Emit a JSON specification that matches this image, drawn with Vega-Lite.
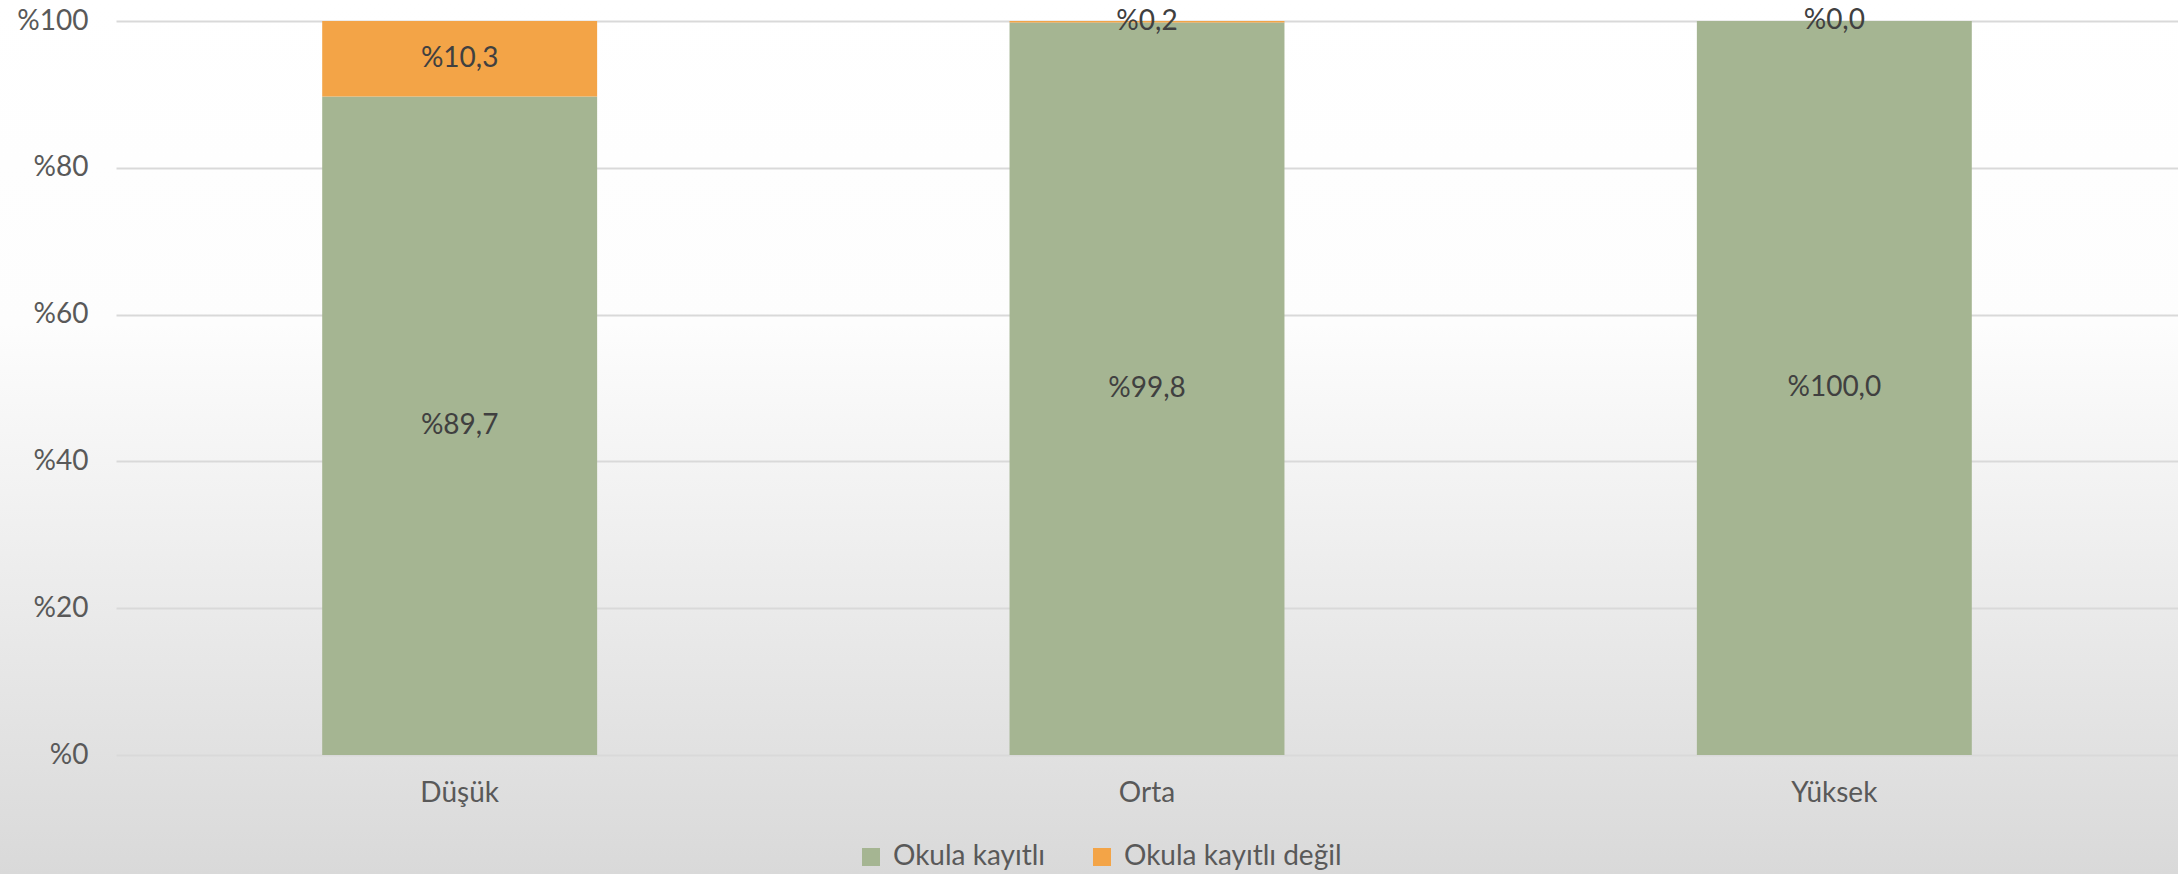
{
  "$schema": "https://vega.github.io/schema/vega-lite/v6.json",
  "width": 2178,
  "height": 874,
  "autosize": {"type": "none"},
  "padding": 0,
  "background": "#ffffff",
  "config": {
    "font": "Lato",
    "view": {"stroke": null, "fill": {"gradient": "linear", "x1": 0, "y1": 0, "x2": 0, "y2": 1, "stops": [{"offset": 0, "color": "#ffffff"}, {"offset": 0.37, "color": "#fdfdfd"}, {"offset": 1, "color": "#d9d9d9"}]}},
    "axis": {"labelFont": "Lato", "labelFontSize": 28, "labelColor": "#595959"},
    "legend": {"labelFont": "Lato", "labelFontSize": 28, "labelColor": "#595959"}
  },
  "data": {
    "values": [
      {"grup": "Düşük", "durum": "Okula kayıtlı", "sira": 1, "deger": 89.7, "etiket": "%89,7"},
      {"grup": "Düşük", "durum": "Okula kayıtlı değil", "sira": 2, "deger": 10.3, "etiket": "%10,3"},
      {"grup": "Orta", "durum": "Okula kayıtlı", "sira": 1, "deger": 99.8, "etiket": "%99,8"},
      {"grup": "Orta", "durum": "Okula kayıtlı değil", "sira": 2, "deger": 0.2, "etiket": "%0,2"},
      {"grup": "Yüksek", "durum": "Okula kayıtlı", "sira": 1, "deger": 100.0, "etiket": "%100,0"},
      {"grup": "Yüksek", "durum": "Okula kayıtlı değil", "sira": 2, "deger": 0.0, "etiket": "%0,0"}
    ]
  },
  "encoding": {
    "x": {
      "field": "grup", "type": "nominal", "sort": ["Düşük", "Orta", "Yüksek"],
      "scale": {"range": [116, 2178], "paddingInner": 0.6, "paddingOuter": 0.3},
      "axis": {"title": null, "labelAngle": 0, "domain": false, "ticks": false, "labelPadding": 24, "offset": -119}
    }
  },
  "layer": [
    {
      "mark": {"type": "bar"},
      "encoding": {
        "y": {
          "field": "deger", "type": "quantitative", "stack": "zero",
          "scale": {"domain": [0, 100], "nice": false, "range": [755, 21]},
          "axis": {"title": null, "values": [0, 20, 40, 60, 80, 100], "labelExpr": "'%' + datum.value", "domain": false, "ticks": false, "labelPadding": 28, "offset": -116, "gridColor": "#d9d9d9", "gridWidth": 2}
        },
        "color": {
          "field": "durum", "type": "nominal",
          "scale": {"domain": ["Okula kayıtlı", "Okula kayıtlı değil"], "range": ["#a5b592", "#f3a447"]},
          "legend": {"title": null, "orient": "none", "direction": "horizontal", "legendX": 857, "legendY": 843, "symbolType": "square", "symbolSize": 324, "symbolStrokeWidth": 0, "symbolOpacity": 1, "labelOffset": 8, "columnPadding": 42, "labelLimit": 0}
        },
        "order": {"field": "sira", "type": "quantitative"}
      }
    },
    {
      "mark": {"type": "text", "fontSize": 28, "color": "#404040", "font": "Lato", "baseline": "middle"},
      "encoding": {
        "y": {"field": "deger", "type": "quantitative", "stack": "zero", "bandPosition": 0.5},
        "text": {"field": "etiket"},
        "order": {"field": "sira", "type": "quantitative"},
        "detail": {"field": "durum"}
      }
    }
  ]
}
